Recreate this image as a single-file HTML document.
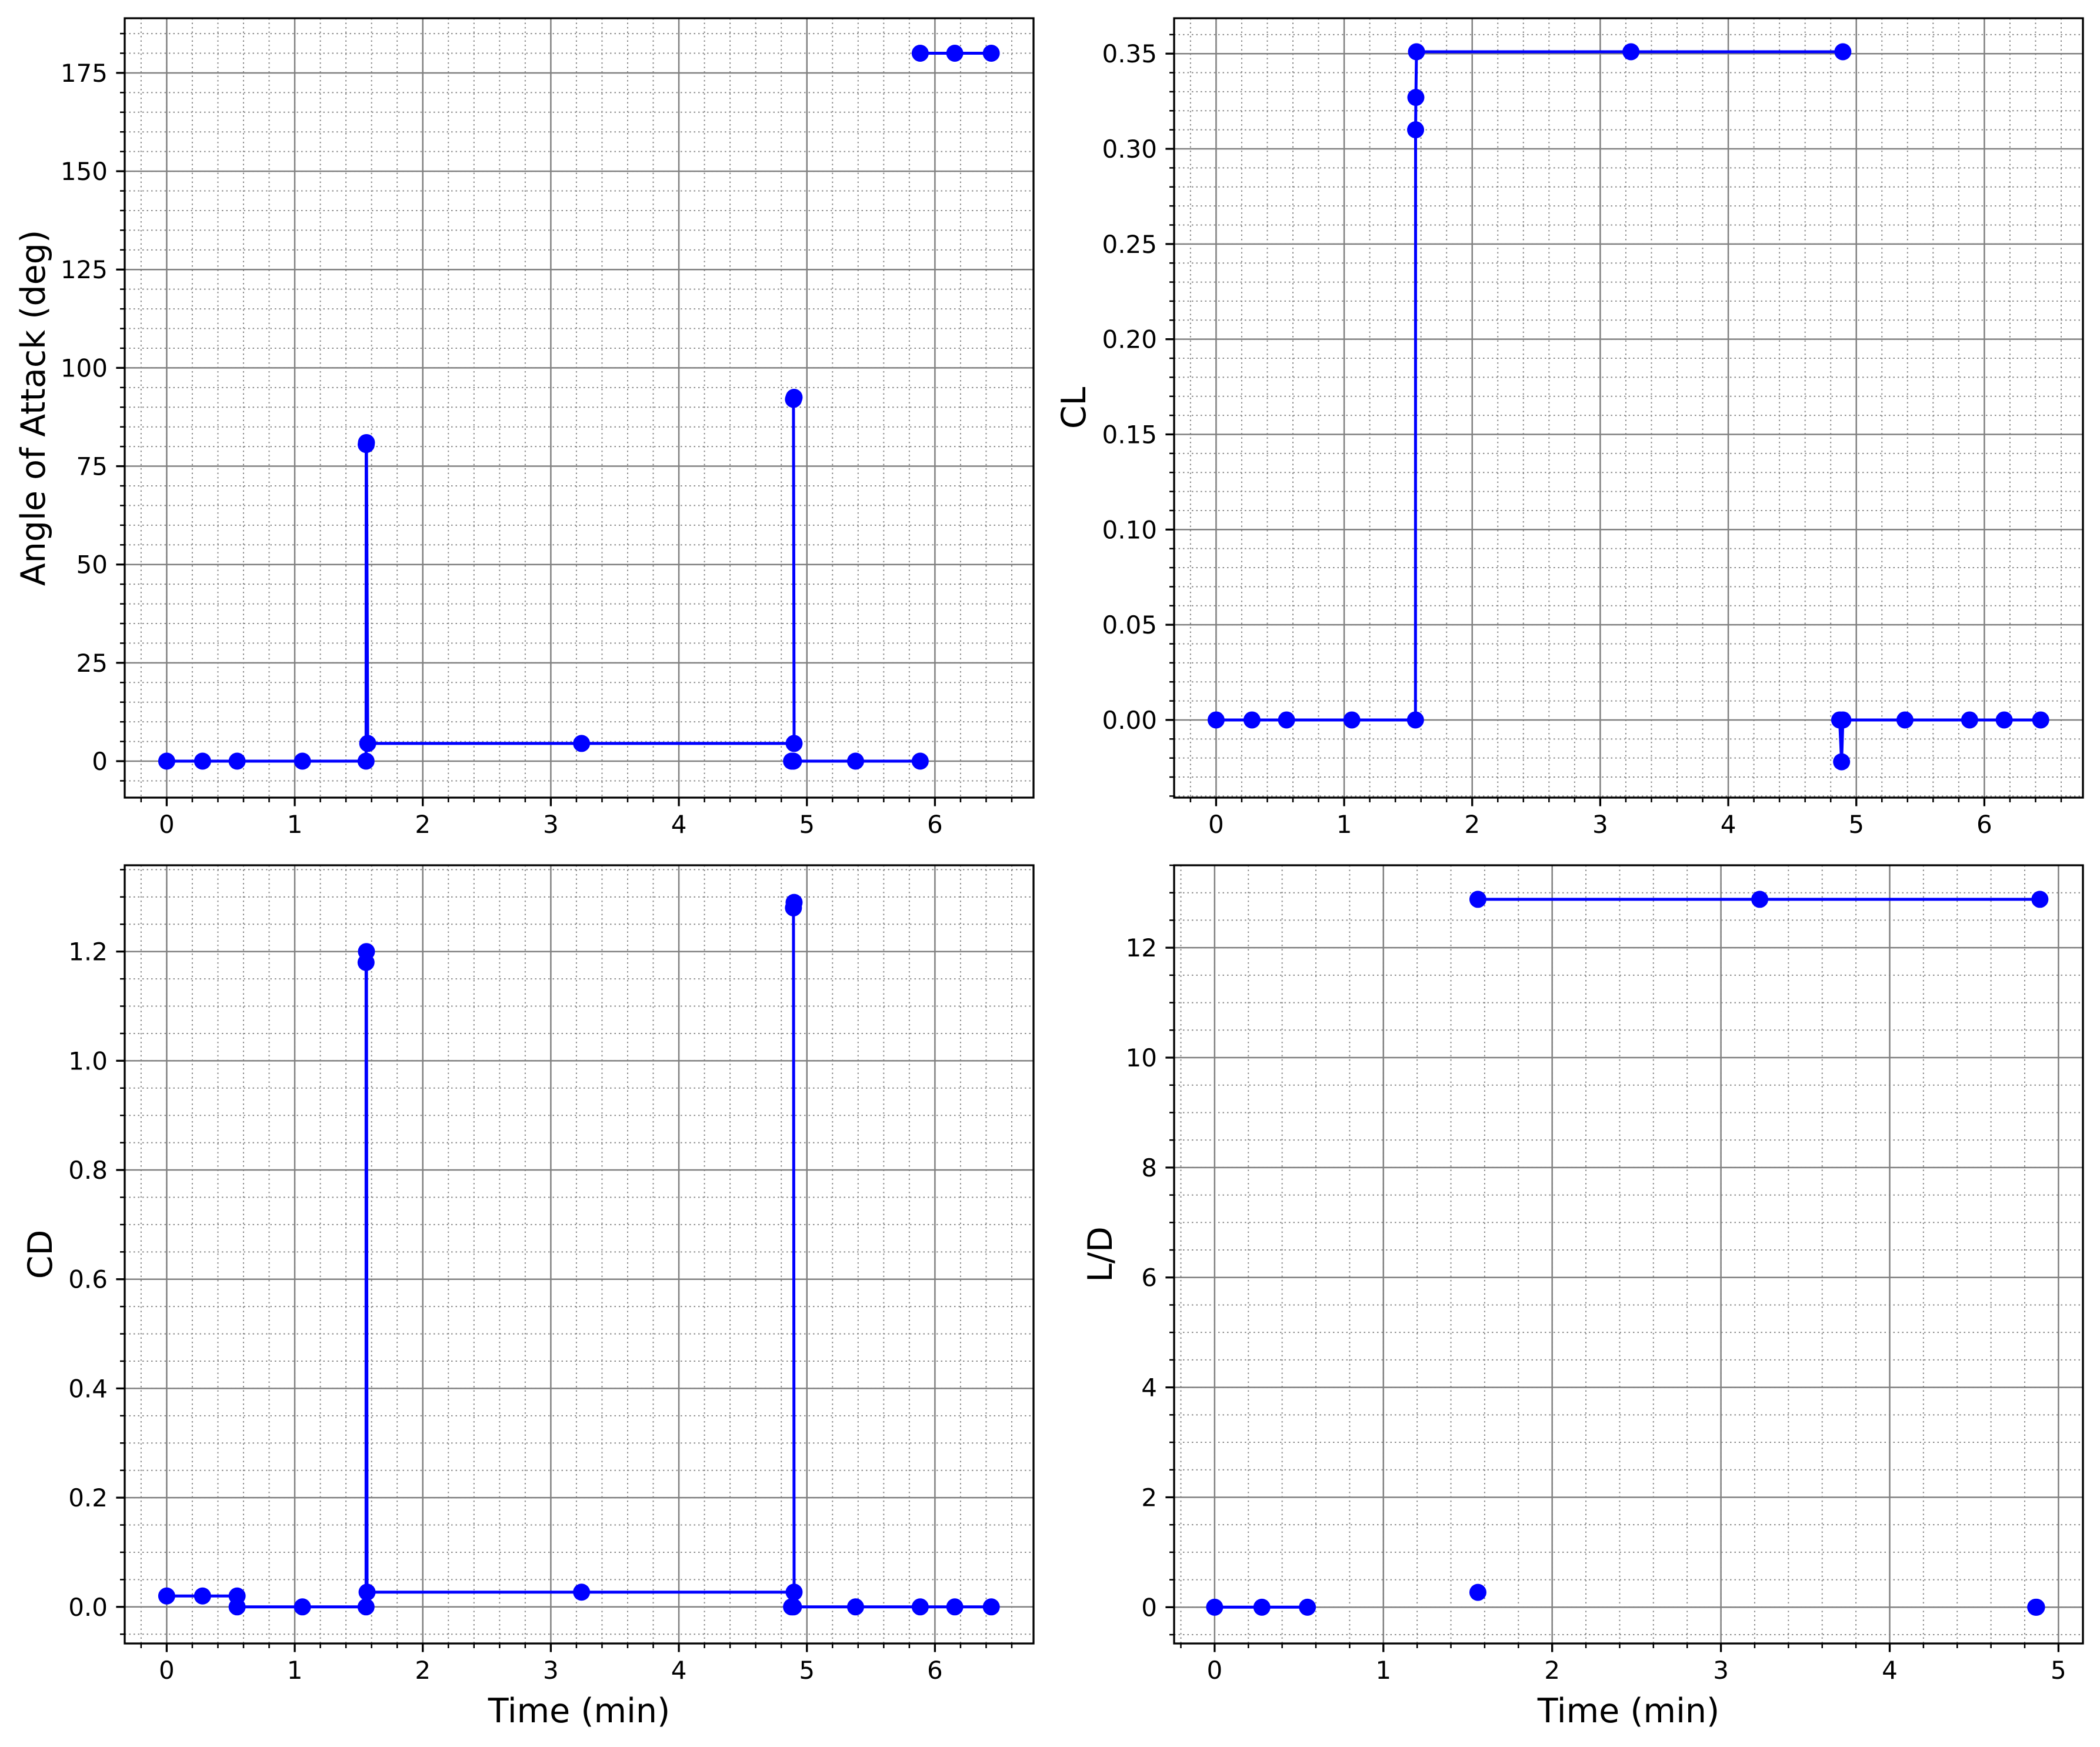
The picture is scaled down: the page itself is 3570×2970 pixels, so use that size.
<!DOCTYPE html>
<html><head><meta charset="utf-8"><style>
html,body{margin:0;padding:0;background:#fff}
svg{display:block}
text{font-family:"DejaVu Sans","Liberation Sans",sans-serif;fill:#000}
</style></head><body>
<svg id="fig" width="3570" height="2970" viewBox="0 0 3570 2970" xmlns="http://www.w3.org/2000/svg"></svg>
<script>
// ---- data (null = line break) ----
const aoaTime = [0,0.28,0.55,1.06,1.557,1.558,1.56,1.57,3.24,4.9,4.895,4.9,null,4.88,4.895,5.38,5.885,null,5.885,6.155,6.44];
const aoaValues = [0,0,0,0,0,80.5,81,4.5,4.5,4.5,92,92.5,null,0,0,0,0,null,180,180,180];
const clTime = [0,0.28,0.55,1.06,1.557,1.558,1.56,1.565,3.24,4.895,null,4.87,4.885,4.895,5.38,5.885,6.155,6.44];
const clValues = [0,0,0,0,0,0.31,0.327,0.351,0.351,0.351,null,0,-0.022,0,0,0,0,0];
const cdTime = [0,0.28,0.55,null,0.55,1.06,1.557,1.557,1.56,1.565,3.24,4.9,4.895,4.9,null,4.88,4.895,5.38,5.885,6.155,6.44];
const cdValues = [0.02,0.02,0.02,null,0,0,0,1.18,1.2,0.027,0.027,0.027,1.28,1.29,null,0,0,0,0,0,0];
const ldTime = [0,0.28,0.55,null,1.56,null,1.56,3.23,4.89,null,4.865,4.87];
const ldValues = [0,0,0,null,0.27,null,12.88,12.88,12.88,null,0,0];
const xTicksLong = [0,1,2,3,4,5,6];
const xTicksShort = [0,1,2,3,4,5];
const aoaTicks = [0,25,50,75,100,125,150,175];
const clTicks = [0,0.05,0.10,0.15,0.20,0.25,0.30,0.35];
const cdTicks = [0,0.2,0.4,0.6,0.8,1.0,1.2];
const ldTicks = [0,2,4,6,8,10,12];

const NS="http://www.w3.org/2000/svg";
const svg=document.getElementById('fig');
function mk(tag,attrs,parent){const e=document.createElementNS(NS,tag);for(const k in attrs)e.setAttribute(k,attrs[k]);(parent||svg).appendChild(e);return e;}

function panel(o){
  const g=mk('g',{});
  
  
  const sx=v=>o.L+(v-o.xlim[0])/(o.xlim[1]-o.xlim[0])*(o.R-o.L);
  const sy=v=>o.B-(v-o.ylim[0])/(o.ylim[1]-o.ylim[0])*(o.B-o.T);
  // minor grid
  const x0=Math.ceil(o.xlim[0]/o.xminor)*o.xminor;
  for(let v=x0;v<=o.xlim[1]+1e-9;v+=o.xminor){const X=sx(v);
    mk('line',{x1:X,x2:X,y1:o.T,y2:o.B,stroke:'#888','stroke-width':2,'stroke-dasharray':'2.5 5'},g);
    mk('line',{x1:X,x2:X,y1:o.B,y2:o.B+8,stroke:'#000','stroke-width':2.5},g);}
  const y0=Math.ceil(o.ylim[0]/o.yminor)*o.yminor;
  for(let v=y0;v<=o.ylim[1]+1e-9;v+=o.yminor){const Y=sy(v);
    mk('line',{x1:o.L,x2:o.R,y1:Y,y2:Y,stroke:'#888','stroke-width':2,'stroke-dasharray':'2.5 5'},g);
    mk('line',{x1:o.L-8,x2:o.L,y1:Y,y2:Y,stroke:'#000','stroke-width':2.5},g);}
  // major grid + ticks
  o.xticks.forEach(v=>{const X=sx(v);
    const gl=mk('line',{x1:X,x2:X,y1:o.T,y2:o.B,stroke:'#808080','stroke-width':2.5},g);
    
    
    mk('line',{x1:X,x2:X,y1:o.B,y2:o.B+14.6,stroke:'#000','stroke-width':3.3},g);
    const t=mk('text',{x:X,y:o.B+60,'font-size':42,'text-anchor':'middle'},g);t.textContent=String(v);
    
    });
  o.yticks.forEach(v=>{const Y=sy(v);
    const gl=mk('line',{x1:o.L,x2:o.R,y1:Y,y2:Y,stroke:'#808080','stroke-width':2.5},g);
    
    
    mk('line',{x1:o.L-14.6,x2:o.L,y1:Y,y2:Y,stroke:'#000','stroke-width':3.3},g);
    const t=mk('text',{x:o.L-29,y:Y+15,'font-size':42,'text-anchor':'end'},g);t.textContent=o.fmt(v);
    
    });
  // series line
  let d='',pen=false;
  for(let i=0;i<o.t.length;i++){
    if(o.t[i]===null||o.v[i]===null){pen=false;continue;}
    d+=(pen?'L':'M')+sx(o.t[i]).toFixed(1)+' '+sy(o.v[i]).toFixed(1);pen=true;}
  const p=mk('path',{d:d,fill:'none',stroke:'#0000ff','stroke-width':5,'stroke-linejoin':'round'},g);
  
  
  for(let i=0;i<o.t.length;i++){
    if(o.t[i]===null||o.v[i]===null)continue;
    const c=mk('circle',{cx:sx(o.t[i]),cy:sy(o.v[i]),r:14.5,fill:'#0000ff'},g);
    
    }
  // spines
  const s=mk('rect',{x:o.L,y:o.T,width:o.R-o.L,height:o.B-o.T,fill:'none',stroke:'#000','stroke-width':3.3},g);
  
  
  const yl=mk('text',{x:0,y:0,'font-size':57,'text-anchor':'middle',transform:`translate(${o.ylx},${(o.T+o.B)/2}) rotate(-90)`},g);
  yl.textContent=o.ylabel;
  
  
  if(o.xlabel){const xl=mk('text',{x:(o.L+o.R)/2,y:2928,'font-size':57,'text-anchor':'middle'},g);
    xl.textContent=o.xlabel;
    
    }
}

panel({name:'aoa-panel',L:212,R:1757,T:31,B:1356,xlim:[-0.328,6.77],ylim:[-9.27,188.9],xticks:xTicksLong,yticks:aoaTicks,xminor:0.2,yminor:5,
  t:aoaTime,v:aoaValues,fmt:v=>String(v),ylabel:'Angle of Attack (deg)',ylx:76});
panel({name:'cl-panel',L:1996,R:3541,T:31,B:1356,xlim:[-0.328,6.77],ylim:[-0.0408,0.3686],xticks:xTicksLong,yticks:clTicks,xminor:0.2,yminor:0.01,
  t:clTime,v:clValues,fmt:v=>v.toFixed(2),ylabel:'CL',ylx:1845});
panel({name:'cd-panel',L:212,R:1757,T:1471,B:2794,xlim:[-0.328,6.77],ylim:[-0.067,1.358],xticks:xTicksLong,yticks:cdTicks,xminor:0.2,yminor:0.05,
  t:cdTime,v:cdValues,fmt:v=>v.toFixed(1),ylabel:'CD',ylx:88,xlabel:'Time (min)'});
panel({name:'ld-panel',L:1996,R:3541,T:1471,B:2794,xlim:[-0.24,5.145],ylim:[-0.66,13.5],xticks:xTicksShort,yticks:ldTicks,xminor:0.2,yminor:0.5,
  t:ldTime,v:ldValues,fmt:v=>String(v),ylabel:'L/D',ylx:1890,xlabel:'Time (min)'});
</script>
</body></html>
